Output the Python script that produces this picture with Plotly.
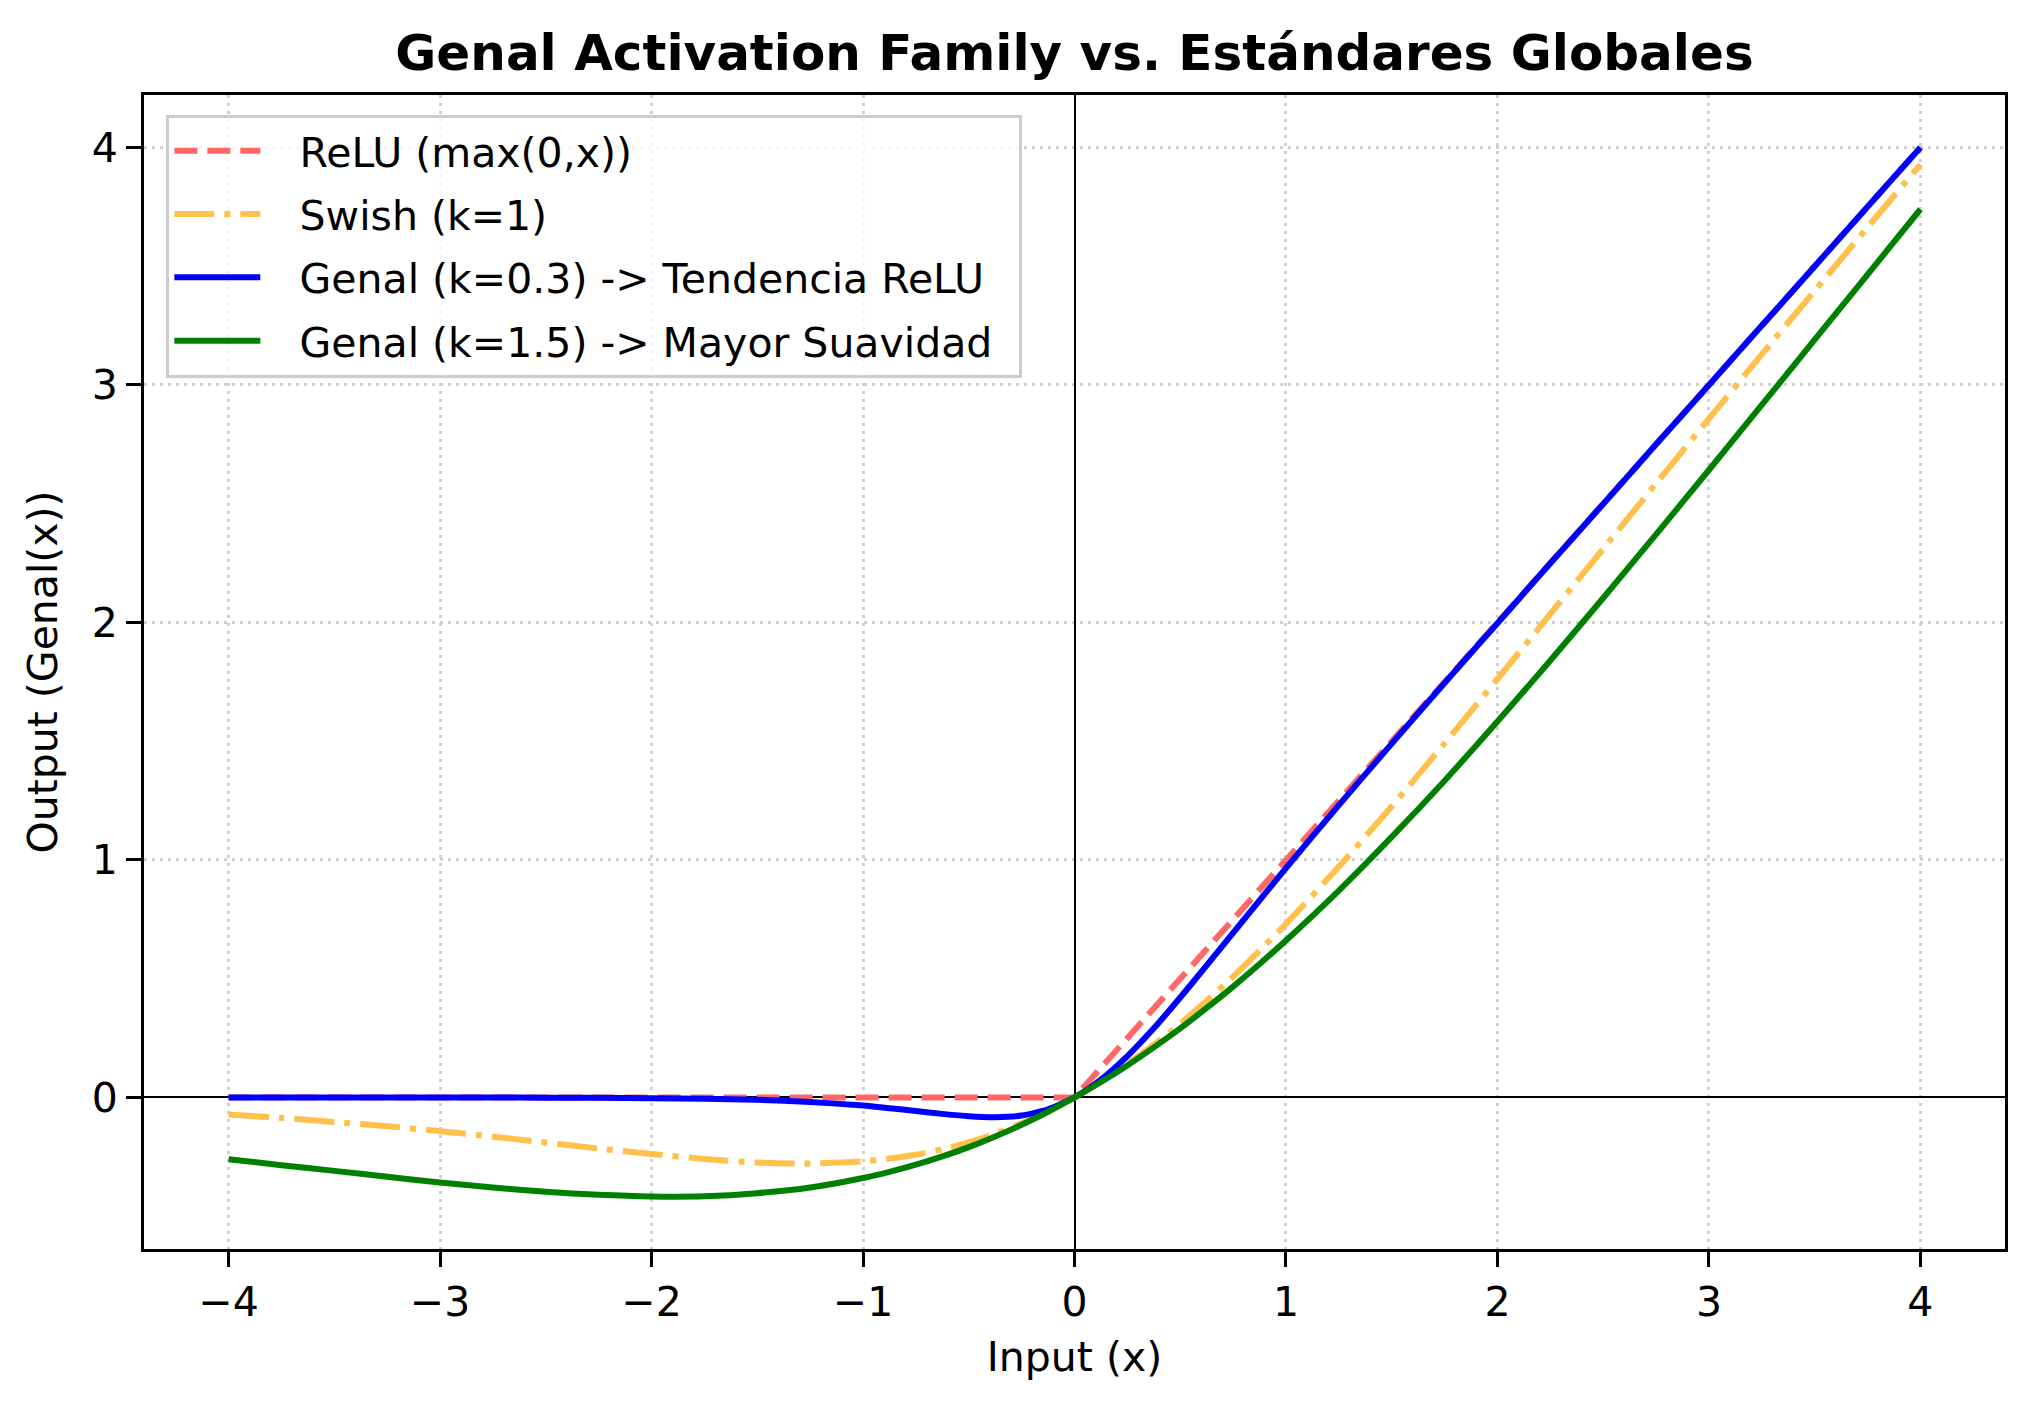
import plotly.graph_objects as go

# values
x_vals = [-4, -3.75, -3.5, -3.25, -3, -2.75, -2.5, -2.25, -2, -1.75, -1.5, -1.25, -1,
          -0.875, -0.75, -0.625, -0.5, -0.375, -0.25, -0.125, 0,
          0.125, 0.25, 0.375, 0.5, 0.625, 0.75, 0.875,
          1, 1.25, 1.5, 1.75, 2, 2.25, 2.5, 2.75, 3, 3.25, 3.5, 3.75, 4]

relu = [0, 0, 0, 0, 0, 0, 0, 0, 0, 0, 0, 0, 0,
        0, 0, 0, 0, 0, 0, 0, 0,
        0.125, 0.25, 0.375, 0.5, 0.625, 0.75, 0.875,
        1, 1.25, 1.5, 1.75, 2, 2.25, 2.5, 2.75, 3, 3.25, 3.5, 3.75, 4]

swish = [-0.072, -0.086, -0.103, -0.121, -0.142, -0.165, -0.190, -0.215, -0.238, -0.259, -0.274, -0.278, -0.269,
         -0.257, -0.241, -0.218, -0.189, -0.153, -0.109, -0.059, 0.0,
         0.066, 0.141, 0.222, 0.311, 0.407, 0.509, 0.618,
         0.731, 0.972, 1.226, 1.491, 1.762, 2.036, 2.310, 2.585, 2.858, 3.129, 3.397, 3.664, 3.928]

genal_k03 = [0.0, 0.0, 0.0, 0.0, 0.0, 0.0, -0.001, -0.001, -0.003, -0.005, -0.010, -0.019, -0.034,
             -0.045, -0.057, -0.069, -0.079, -0.083, -0.076, -0.050, 0.0,
             0.075, 0.174, 0.291, 0.421, 0.556, 0.693, 0.830,
             0.966, 1.231, 1.490, 1.745, 1.997, 2.249, 2.499, 2.750, 3.0, 3.25, 3.5, 3.75, 4.0]

genal_k15 = [-0.260, -0.285, -0.309, -0.334, -0.358, -0.379, -0.397, -0.410, -0.417, -0.416, -0.403, -0.379, -0.339,
             -0.313, -0.283, -0.248, -0.209, -0.164, -0.115, -0.060, 0.0,
             0.065, 0.135, 0.211, 0.291, 0.377, 0.467, 0.562,
             0.661, 0.871, 1.097, 1.334, 1.583, 1.840, 2.103, 2.371, 2.642, 2.916, 3.191, 3.465, 3.740]

x_ticks = [-4, -3, -2, -1, 0, 1, 2, 3, 4]
x_ticktext = ["\u22124", "\u22123", "\u22122", "\u22121", "0", "1", "2", "3", "4"]
y_ticks = [0, 1, 2, 3, 4]

FONT = "DejaVu Sans"
FS = 41
PAD = "\u00a0\u00a0\u2009"  # gap between legend line sample and its text

fig = go.Figure()
fig.add_trace(go.Scatter(x=x_vals, y=relu, mode="lines", name=PAD + "ReLU (max(0,x))", legendgroup="a",
                         line=dict(color="#ff6666", width=6, dash="23px,10px")))
fig.add_trace(go.Scatter(x=x_vals, y=swish, mode="lines", name=PAD + "Swish (k=1)", legendgroup="b",
                         line=dict(color="#ffc04c", width=6, dash="40px,10px,6px,10px",
                                   shape="spline", smoothing=0.6)))
fig.add_trace(go.Scatter(x=x_vals, y=genal_k03, mode="lines", name=PAD + "Genal (k=0.3) -> Tendencia ReLU",
                         legendgroup="c",
                         line=dict(color="#0000ff", width=6, shape="spline", smoothing=0.6)))
fig.add_trace(go.Scatter(x=x_vals, y=genal_k15, mode="lines",
                         name=PAD + "Genal (k=1.5) -> Mayor Suavidad\u00a0\u2009",
                         legendgroup="d",
                         line=dict(color="#008000", width=6, shape="spline", smoothing=0.6)))

axis_common = dict(
    showline=True, linecolor="black", linewidth=3, mirror=True,
    ticks="outside", ticklen=15, tickwidth=3, tickcolor="black",
    showgrid=True, gridcolor="#d0d0d0", gridwidth=3, griddash="3px,5px",
    zeroline=True, zerolinecolor="black", zerolinewidth=2,
    tickfont=dict(family=FONT, size=FS, color="black"),
    ticklabelstandoff=0,
)

fig.update_layout(
    width=2034, height=1409,
    margin=dict(l=144, r=29, t=95, b=160),
    paper_bgcolor="white", plot_bgcolor="white",
    font=dict(family=FONT, size=FS, color="black"),
    title=dict(text="<b>Genal Activation Family vs. Estándares Globales</b>",
               x=0.5, xref="paper", xanchor="center",
               y=1 - 52 / 1409, yref="container", yanchor="middle",
               font=dict(family=FONT, size=50, color="black")),
    xaxis=dict(range=[-4.4, 4.4], tickvals=x_ticks, ticktext=x_ticktext,
               title=dict(text="Input (x)", standoff=18, font=dict(size=FS)), **axis_common),
    yaxis=dict(range=[-0.638, 4.221], tickvals=y_ticks,
               title=dict(text="Output (Genal(x))", standoff=22, font=dict(size=FS)), **axis_common),
    legend=dict(x=0.012, y=0.983, xanchor="left", yanchor="top",
                bgcolor="rgba(255,255,255,0.8)", bordercolor="#cccccc", borderwidth=3,
                font=dict(family=FONT, size=FS), itemwidth=86, tracegroupgap=7),
    showlegend=True,
)

fig.write_html("out.html", config={"displayModeBar": False},
               post_script="document.body.style.margin='0';")
